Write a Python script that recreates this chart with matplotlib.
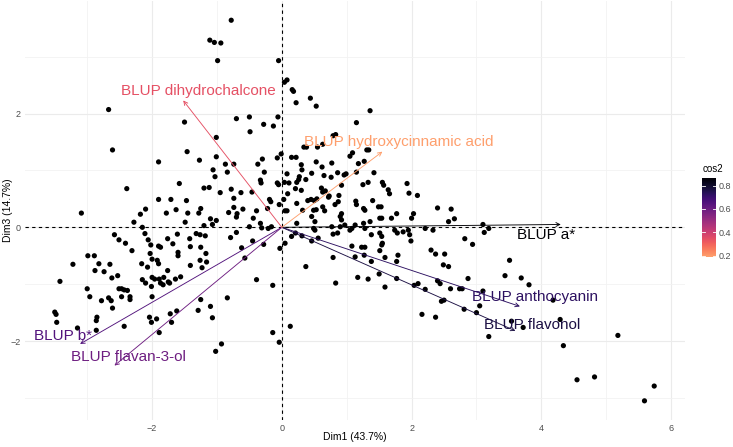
import numpy as np
import matplotlib
matplotlib.use("Agg")
import matplotlib.pyplot as plt
from matplotlib.colors import ListedColormap, Normalize

plt.rcParams['font.family'] = ['Liberation Sans', 'DejaVu Sans']

# individuals (PCA scores)
dim1 = [
    # upper left
    -0.78, -1.11, -1.04, -0.94, -0.99, -2.67, -0.70, -1.50, -1.01, -2.61,
    -1.46, -1.01, -1.90, -1.27, -0.87, -0.74, -1.06, -0.84, -1.03, -1.58,
    -2.39, -1.20, -1.12, -0.78, -0.63, -0.95, -0.74, -1.90, -1.71, -1.47,
    -2.10, -1.63, -1.25, -0.74, -0.60, -3.09, -2.18, -1.78, -1.45, -1.28,
    -0.82, -0.69,
    # lower left
    -0.70, -1.10, -1.01, -1.49, -1.20, -1.07, -2.28, -2.15, -2.11, -2.58,
    -2.51, -2.41, -2.31, -2.06, -2.02, -1.90, -1.87, -1.76, -1.68, -1.61,
    -1.42, -1.32, -1.26, -1.18, -0.79, -0.70, -1.41, -1.25, -2.99, -2.89,
    -3.22, -2.82, -2.65, -2.74, -2.88, -2.62, -2.53, -2.16, -2.07, -2.00,
    -1.92, -1.90, -2.03, -1.76, -1.82, -1.75, -1.64, -1.56, -1.60, -1.60,
    -1.41, -1.26, -1.17, -1.16, -1.23, -2.15, -2.10, -2.00, -1.96, -1.89,
    -1.87, -1.83, -1.73, -3.42, -3.00, -2.96, -2.78, -2.67, -2.63, -2.61,
    -2.51, -2.47, -2.43, -2.38, -2.34, -2.34, -2.47, -2.01, -2.00, -1.25,
    -1.10, -0.84, -1.29, -1.07, -1.62, -1.72, -1.70, -2.04, -2.01, -1.93,
    -2.43, -1.89, -3.50, -3.48, -3.47, -2.85, -2.86, -2.86, -3.15, -1.02,
    -0.93, -0.62, -0.57,
    # upper centre
    -0.05, 0.04, 0.08, 0.16, 0.18, 0.22, 0.44, 0.53, -0.50, -0.06,
    -0.28, -0.13, -0.49, 1.36, 1.15, 0.79, 0.83, 0.34, 0.38, 0.55,
    0.63, 1.31, 1.34, 1.09, 1.05, -0.01, -0.07, -0.30, -0.37, 0.15,
    0.22, 0.53, 0.62, 0.77, -0.27, -0.33, -0.32, -0.46, 0.30, 0.31,
    0.27, 0.26, 0.23, 0.08, 0.37, 0.46, 0.65, 0.76, 0.86, 0.96,
    0.99, 1.15, 1.18, 1.27, 1.42, 1.25, 1.33, 1.55, 1.57, 1.64,
    1.66, 1.93, 1.96, 2.09, -0.07, -0.05, 0.04, 0.11, 0.21, 0.30,
    0.09, 0.03, -0.04, -0.19, -0.17, 0.61, 0.63, 0.67, 0.72, 0.73,
    0.92, 0.88, 0.87, 1.14, 1.15, 1.40, 1.49, 1.53, 1.26, 1.28,
    0.40, 0.45, 0.50, 0.54, 0.49, 0.53, 0.63, 0.66, 0.82, 0.23,
    -0.39, -0.22, 0.05, 0.08, 0.32, 2.40, 2.61, 1.77, 2.03, 0.92,
    # lower centre
    -0.50, -0.44, -0.33, -0.31, -0.21, -0.16, -0.45, -0.28, -0.03, 0.05,
    0.15, 0.21, 0.31, 0.46, 0.56, 0.23, 0.49, 0.51, 0.46, 0.51,
    0.77, 0.79, 0.86, 0.90, 0.92, 0.90, 0.97, 1.05, 1.08, 1.13,
    1.26, 1.28, 1.36, 1.38, 1.51, 1.54, 1.51, 1.54, 1.55, 1.54,
    1.51, 1.69, 1.74, 1.78, 1.87, 1.95, 1.97, 1.99, 2.00, 2.21,
    2.33, 2.57, 2.66, 1.08, 1.23, 1.28, 1.13, 1.27, 1.38, 1.59,
    1.79, 1.77, 2.30, 2.37, 2.51, 2.49, 2.57, 0.79, 0.37, 1.17,
    1.33, 1.50, 1.77, 1.59, 2.04, 2.10, 2.21, 2.40, 2.44, 2.60,
    2.74, 2.78, 2.46, 2.50, 2.81, 0.83, -0.39, -0.14, 2.16, 2.37,
    -0.14, -0.04, 0.13,
    # right
    3.10, 3.19, 3.12, 2.82, 2.94, 3.51, 3.44, 3.69, 3.81, 2.87,
    3.10, 3.05, 3.00, 4.18, 4.29, 3.54, 3.72, 3.19, 4.34, 5.18,
    4.55, 4.82, 5.74, 5.59,
]
dim3 = [
    # upper left
    3.64, 3.29, 3.25, 3.24, 2.93, 2.07, 1.91, 1.85, 1.58, 1.36,
    1.33, 1.24, 1.15, 1.18, 1.11, 1.11, 1.01, 0.97, 0.89, 0.77,
    0.68, 0.69, 0.70, 0.67, 0.61, 0.61, 0.51, 0.49, 0.49, 0.47,
    0.32, 0.31, 0.33, 0.35, 0.32, 0.25, 0.23, 0.25, 0.25, 0.25,
    0.26, 0.24,
    # lower left
    0.18, 0.15, 0.12, 0.09, 0.03, 0.05, 0.09, 0.00, -0.11, -0.13,
    -0.22, -0.28, -0.41, -0.22, -0.31, -0.33, -0.35, -0.20, -0.29, -0.12,
    -0.20, -0.11, -0.13, -0.15, -0.18, -0.09, -0.34, -0.35, -0.50, -0.50,
    -0.65, -0.64, -0.65, -0.78, -0.76, -0.89, -0.85, -0.64, -0.70, -0.56,
    -0.58, -0.64, -0.46, -0.76, -0.88, -0.96, -0.91, -0.87, -0.44, -0.50,
    -0.67, -0.58, -0.46, -0.61, -0.71, -0.92, -0.98, -0.88, -0.91, -0.91,
    -0.98, -1.01, -0.98, -0.95, -1.08, -1.22, -1.29, -1.24, -1.29, -1.42,
    -1.08, -1.08, -1.10, -1.11, -1.22, -1.27, -1.22, -1.04, -1.22, -1.27,
    -1.39, -1.24, -1.46, -1.59, -1.47, -1.52, -1.67, -1.58, -1.67, -1.61,
    -1.74, -1.85, -1.49, -1.53, -1.67, -1.58, -1.64, -1.81, -1.77, -2.18,
    -2.05, -0.36, -0.54,
    # upper centre
    2.93, 2.55, 2.59, 2.42, 2.39, 2.19, 2.27, 2.13, 1.94, 1.94,
    1.81, 1.78, 1.68, 2.05, 1.84, 1.61, 1.63, 1.41, 1.41, 1.41,
    1.46, 1.36, 1.36, 1.31, 1.25, 1.29, 1.22, 1.20, 1.11, 1.23,
    1.23, 1.15, 1.06, 1.13, 0.97, 0.83, 0.78, 0.62, 1.10, 1.01,
    0.89, 0.84, 0.79, 0.94, 0.84, 0.95, 0.91, 0.88, 0.96, 0.92,
    0.94, 0.97, 1.12, 1.16, 0.96, 0.75, 0.79, 0.79, 0.74, 0.66,
    0.59, 0.77, 0.60, 0.56, 0.78, 0.75, 0.79, 0.78, 0.68, 0.65,
    0.59, 0.49, 0.40, 0.49, 0.45, 0.69, 0.62, 0.64, 0.53, 0.55,
    0.74, 0.56, 0.45, 0.46, 0.40, 0.47, 0.36, 0.36, 0.33, 0.30,
    0.47, 0.49, 0.47, 0.50, 0.30, 0.31, 0.36, 0.29, 0.40, 0.42,
    0.29, 0.33, 0.29, 0.29, 0.30, 0.34, 0.32, 0.24, 0.24, 0.24,
    # lower centre
    0.01, 0.16, 0.07, -0.01, -0.02, 0.01, -0.24, -0.30, -0.37, -0.28,
    -0.16, -0.10, -0.15, -0.24, -0.19, 0.07, -0.02, -0.05, 0.19, 0.10,
    0.01, -0.12, -0.10, 0.19, 0.13, 0.01, 0.04, -0.05, -0.02, 0.04,
    0.07, -0.02, 0.10, -0.13, 0.16, 0.16, -0.10, -0.16, -0.28, -0.31,
    -0.41, 0.16, -0.05, -0.10, -0.08, -0.05, -0.13, -0.24, 0.16, -0.02,
    -0.05, 0.10, 0.15, -0.33, -0.35, -0.35, -0.52, -0.49, -0.60, -0.53,
    -0.49, -0.60, -0.40, -0.47, -0.47, -0.66, -0.69, -0.53, -0.69, -0.88,
    -0.91, -0.82, -0.90, -1.05, -1.02, -0.99, -1.09, -0.94, -0.99, -1.08,
    -1.08, -1.08, -1.30, -1.28, -1.44, -0.98, -0.92, -1.02, -1.53, -1.58,
    -1.85, -2.02, -1.74,
    # right
    0.05, -0.02, -0.09, -0.20, -0.30, -0.58, -0.85, -0.89, -1.01, -0.90,
    -1.12, -1.38, -1.50, -1.28, -1.62, -1.65, -1.76, -1.92, -2.08, -1.90,
    -2.68, -2.63, -2.79, -3.05,
]

# variables (arrows)
var_names = ["BLUP a*", "BLUP anthocyanin", "BLUP flavonol", "BLUP b*",
             "BLUP flavan-3-ol", "BLUP dihydrochalcone", "BLUP hydroxycinnamic acid"]
var_dim1 = [4.30, 3.67, 3.60, -3.11, -2.58, -1.52, 1.55]
var_dim3 = [0.05, -1.39, -1.82, -2.05, -2.43, 2.23, 1.33]
var_cos2 = [0.86, 0.72, 0.76, 0.65, 0.59, 0.34, 0.19]

cbar_ticks = [0.2, 0.4, 0.6, 0.8]

# repel-like label offsets (data units)
label_dx = [-0.22, 0.24, 0.26, -0.26, 0.22, 0.24, 0.25]
label_dy = [-0.19, 0.17, 0.11, 0.14, 0.15, 0.17, 0.17]

# magma, reversed and without the pale yellow end
cmap = ListedColormap(plt.get_cmap('magma')(np.linspace(0.8, 0.0, 256)))
norm = Normalize(vmin=0.19, vmax=0.865)

fig = plt.figure(figsize=(7.33, 4.47), dpi=100)
ax = fig.add_axes([0.034, 0.060, 0.901, 0.938])

ax.set_xlim(-3.96, 6.22)
ax.set_ylim(-3.39, 3.98)
ax.set_xticks([-2, 0, 2, 4, 6])
ax.set_yticks([-2, 0, 2])
ax.set_xticks([-3, -1, 1, 3, 5], minor=True)
ax.set_yticks([-3, -1, 1, 3], minor=True)
ax.grid(which='major', color='#ebebeb', lw=0.8)
ax.grid(which='minor', color='#f2f2f2', lw=0.6)
ax.set_axisbelow(True)
for s in ax.spines.values():
    s.set_visible(False)
ax.tick_params(which='both', length=0, labelsize=6.5, labelcolor='#4d4d4d', pad=3)

ax.axhline(0, color='black', lw=0.8, ls=(0, (3, 3)), zorder=1)
ax.axvline(0, color='black', lw=0.8, ls=(0, (3, 3)), zorder=1)

ax.scatter(dim1, dim3, s=14, color='black', edgecolors='none', zorder=2)

for i, name in enumerate(var_names):
    c = cmap(norm(var_cos2[i]))
    ax.annotate('', xy=(var_dim1[i], var_dim3[i]), xytext=(0, 0),
                arrowprops=dict(arrowstyle='->', color=c, lw=0.65,
                                shrinkA=0, shrinkB=0, mutation_scale=7),
                zorder=3)
    ax.text(var_dim1[i] + label_dx[i], var_dim3[i] + label_dy[i], name,
            color=c, fontsize=11, ha='center', va='center', zorder=4)

ax.set_xlabel('Dim1 (43.7%)', fontsize=7.5)
ax.set_ylabel('Dim3 (14.7%)', fontsize=7.5)
ax.xaxis.set_label_coords(0.5, -0.040)
ax.yaxis.set_label_coords(-0.026, 0.5)
ax.xaxis.label.set_va('center')
ax.yaxis.label.set_va('center')

# colour bar
cax = fig.add_axes([0.958, 0.425, 0.019, 0.177])
grad = np.linspace(0.19, 0.865, 200).reshape(-1, 1)
cax.imshow(grad, aspect='auto', cmap=cmap, norm=norm, origin='lower',
           extent=[0, 1, 0.19, 0.865])
cax.set_xlim(0, 1)
cax.set_ylim(0.19, 0.865)
cax.set_xticks([])
cax.set_yticks(cbar_ticks)
cax.yaxis.tick_right()
cax.tick_params(axis='y', length=0, labelsize=6.5, labelcolor='#4d4d4d', pad=2)
for t in cbar_ticks:
    cax.plot([0, 0.2], [t, t], color='white', lw=0.6)
    cax.plot([0.8, 1], [t, t], color='white', lw=0.6)
for s in cax.spines.values():
    s.set_visible(False)
cax.set_title('cos2', fontsize=7, loc='left', pad=4)

fig.savefig('out.png', dpi=100)
